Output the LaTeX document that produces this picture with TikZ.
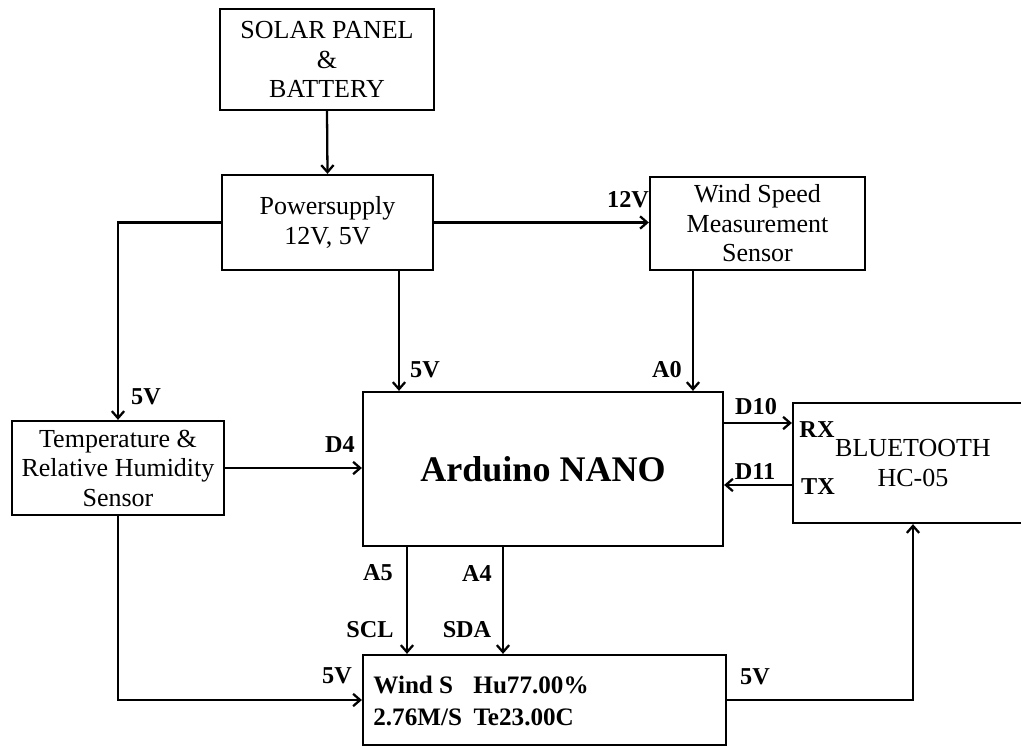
\documentclass[tikz,border=0pt]{standalone}
\usepackage{fontspec}
\setmainfont{Liberation Serif}
\usetikzlibrary{arrows.meta}
\begin{document}
\begin{tikzpicture}[x=0.02cm,y=-0.02cm,
  blk/.style={draw,line width=1.3pt,inner sep=0pt,align=center,
    font=\fontsize{14.8}{16.8}\selectfont},
  arr/.style={line width=1.3pt,-{Straight Barb[length=4pt,width=7pt,line width=1.3pt]}},
  lbl/.style={inner sep=0pt,font=\fontsize{13.8}{15}\selectfont\bfseries}]
\useasboundingbox (0,0) rectangle (1021,747);
\clip (0,0) rectangle (1021,747);
% blocks
\node[blk,minimum width=4.28cm,minimum height=2.02cm] (solar) at (327,59.5) {SOLAR PANEL\\\&\\BATTERY};
\node[blk,minimum width=4.22cm,minimum height=1.90cm] (power) at (327.5,222.5) {Powersupply\\12V, 5V};
\node[blk,minimum width=4.30cm,minimum height=1.86cm] (wind) at (757.5,223.5) {Wind Speed\\Measurement\\Sensor};
\node[blk,minimum width=4.24cm,minimum height=1.88cm] (temp) at (118,468) {Temperature \&\\Relative Humidity\\Sensor};
\node[blk,minimum width=7.20cm,minimum height=3.08cm,font=\fontsize{20.5}{24}\selectfont\bfseries] (ard) at (543,469) {Arduino NANO};
\node[blk,minimum width=4.80cm,minimum height=2.40cm] (bt) at (913,463) {BLUETOOTH\\HC-05};
\node[blk,minimum width=7.26cm,minimum height=1.80cm] (lcd) at (544.5,700) {};
\node[anchor=west,inner sep=0pt,align=left,font=\fontsize{14.3}{18}\selectfont\bfseries] (lcdtxt) at (373,701)
  {\makebox[57pt][l]{Wind S}Hu77.00\%\\\makebox[57pt][l]{2.76M/S}Te23.00C};
% column / row helpers
\coordinate (c5) at (399,0);
\coordinate (cA0) at (693,0);
\coordinate (cA5) at (407,0);
\coordinate (cA4) at (503,0);
\coordinate (rD10) at (0,423);
\coordinate (rD11) at (0,485);
% connectors
\draw[arr] (solar.south) -- (power.north);
\draw[arr] (power.east) -- (power.east -| wind.west);
\draw[arr] (power.south -| c5) -- (ard.north -| c5);
\draw[arr] (power.west) -| (temp.north);
\draw[arr] (wind.south -| cA0) -- (ard.north -| cA0);
\draw[arr] (temp.east) -- (temp.east -| ard.west);
\draw[arr] (ard.east |- rD10) -- (bt.west |- rD10);
\draw[arr] (bt.west |- rD11) -- (ard.east |- rD11);
\draw[arr] (ard.south -| cA5) -- (lcd.north -| cA5);
\draw[arr] (ard.south -| cA4) -- (lcd.north -| cA4);
\draw[arr] (temp.south) |- (lcd.west);
\draw[arr] (lcd.east) -| (bt.south);
% labels
\node[lbl] (l12) at (628,200) {12V};
\node[lbl] (l5a) at (425,370) {5V};
\node[lbl] (lA0) at (667,370) {A0};
\node[lbl] (l5b) at (146,397) {5V};
\node[lbl] (lD4) at (340,445) {D4};
\node[lbl] (lD10) at (756,407) {D10};
\node[lbl] (lD11) at (755,472) {D11};
\node[lbl] (lRX) at (817,430) {RX};
\node[lbl] (lTX) at (818,487) {TX};
\node[lbl] (lA5) at (378,573) {A5};
\node[lbl] (lA4) at (477,573) {A4};
\node[lbl] (lSCL) at (370,630) {SCL};
\node[lbl] (lSDA) at (467,630) {SDA};
\node[lbl] (l5c) at (337,676) {5V};
\node[lbl] (l5d) at (755,677) {5V};
\end{tikzpicture}
\end{document}
